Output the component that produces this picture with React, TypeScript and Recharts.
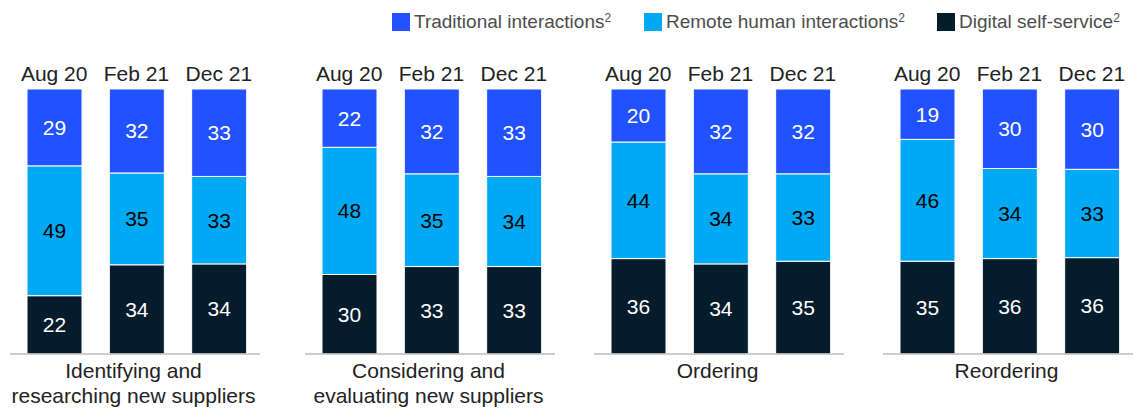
import React from 'react';
import { BarChart, Bar, XAxis, YAxis, LabelList } from 'recharts';

const periods = ['Aug 20', 'Feb 21', 'Dec 21'];
const stages = [
  ['Identifying and', 'researching new suppliers'],
  ['Considering and', 'evaluating new suppliers'],
  ['Ordering'],
  ['Reordering'],
];
// share of interactions, % (one row per stage, one value per period)
const traditional = [
  [29, 32, 33],
  [22, 32, 33],
  [20, 32, 32],
  [19, 30, 30],
];
const remote = [
  [49, 35, 33],
  [48, 35, 34],
  [44, 34, 33],
  [46, 34, 33],
];
const digital = [
  [22, 34, 34],
  [30, 33, 33],
  [36, 34, 35],
  [35, 36, 36],
];

const FONT = '"Liberation Sans", Arial, sans-serif';
const COLORS = { traditional: '#2251ff', remote: '#00a9f4', digital: '#051c2c' };
const groupLeft = [10, 305, 594, 883];

const legendItems = [
  { label: 'Traditional interactions', color: COLORS.traditional, left: 392 },
  { label: 'Remote human interactions', color: COLORS.remote, left: 644 },
  { label: 'Digital self-service', color: COLORS.digital, left: 937 },
];

const PeriodTick = (props: any) => {
  const { x, y, payload } = props;
  return (
    <text x={x} y={y} textAnchor="middle" fontSize={21} fill="#222" fontFamily={FONT}>
      {payload.value}
    </text>
  );
};

const StageLabel = ({ viewBox, lines }: any) => {
  const cx = viewBox.x + viewBox.width / 2 - 1.5;
  return (
    <text x={cx} y={viewBox.y + 24} textAnchor="middle" fontSize={21} fill="#222" fontFamily={FONT}>
      {lines.map((l: string, i: number) => (
        <tspan key={l} x={cx} dy={i === 0 ? 0 : 25}>
          {l}
        </tspan>
      ))}
    </text>
  );
};

const StageChart = ({ index }: { index: number }) => {
  const data = periods.map((p, i) => ({
    period: p,
    digital: digital[index][i],
    remote: remote[index][i],
    traditional: traditional[index][i],
  }));

  return (
    <div style={{ position: 'absolute', left: groupLeft[index], top: 0 }}>
      <BarChart
        width={250}
        height={410}
        data={data}
        stackOffset="expand"
        margin={{ top: 59, right: 0, bottom: 0, left: 0 }}
      >
        <XAxis
          xAxisId="top"
          orientation="top"
          dataKey="period"
          height={30}
          axisLine={false}
          tickLine={false}
          padding={{ left: 3, right: 0 }}
          tick={<PeriodTick />}
        />
        <XAxis
          xAxisId="bottom"
          dataKey="period"
          height={56}
          tick={false}
          tickLine={false}
          axisLine={{ stroke: '#bdbdbd', strokeWidth: 1.5 }}
          padding={{ left: 3, right: 0 }}
          label={{ content: (p: any) => <StageLabel viewBox={p.viewBox} lines={stages[index]} /> }}
        />
        <YAxis hide domain={[0, 1]} />
        <Bar xAxisId="bottom" dataKey="digital" stackId="s" fill={COLORS.digital} stroke="#fff" strokeWidth={1} barSize={55} isAnimationActive={false}>
          <LabelList dataKey="digital" position="center" fill="#fff" fontSize={21} fontFamily={FONT} />
        </Bar>
        <Bar xAxisId="bottom" dataKey="remote" stackId="s" fill={COLORS.remote} stroke="#fff" strokeWidth={1} barSize={55} isAnimationActive={false}>
          <LabelList dataKey="remote" position="center" fill="#000" fontSize={21} fontFamily={FONT} />
        </Bar>
        <Bar xAxisId="bottom" dataKey="traditional" stackId="s" fill={COLORS.traditional} stroke="#fff" strokeWidth={1} barSize={55} isAnimationActive={false}>
          <LabelList dataKey="traditional" position="center" fill="#fff" fontSize={21} fontFamily={FONT} />
        </Bar>
      </BarChart>
    </div>
  );
};

export default function App() {
  return (
    <div style={{ position: 'absolute', left: 0, top: 0, width: 1139, height: 410, background: '#fff', fontFamily: FONT }}>
      {legendItems.map((item) => (
        <div key={item.label} style={{ position: 'absolute', left: item.left, top: 13, display: 'flex', alignItems: 'center', height: 18 }}>
          <span style={{ width: 18, height: 18, background: item.color, display: 'inline-block' }} />
          <span style={{ marginLeft: 4, fontSize: 19, color: '#4d4d4d', whiteSpace: 'nowrap', lineHeight: '18px' }}>
            {item.label}
            <sup style={{ fontSize: 12, verticalAlign: 'top', position: 'relative', top: -4 }}>2</sup>
          </span>
        </div>
      ))}
      {stages.map((_, i) => (
        <StageChart key={i} index={i} />
      ))}
    </div>
  );
}
